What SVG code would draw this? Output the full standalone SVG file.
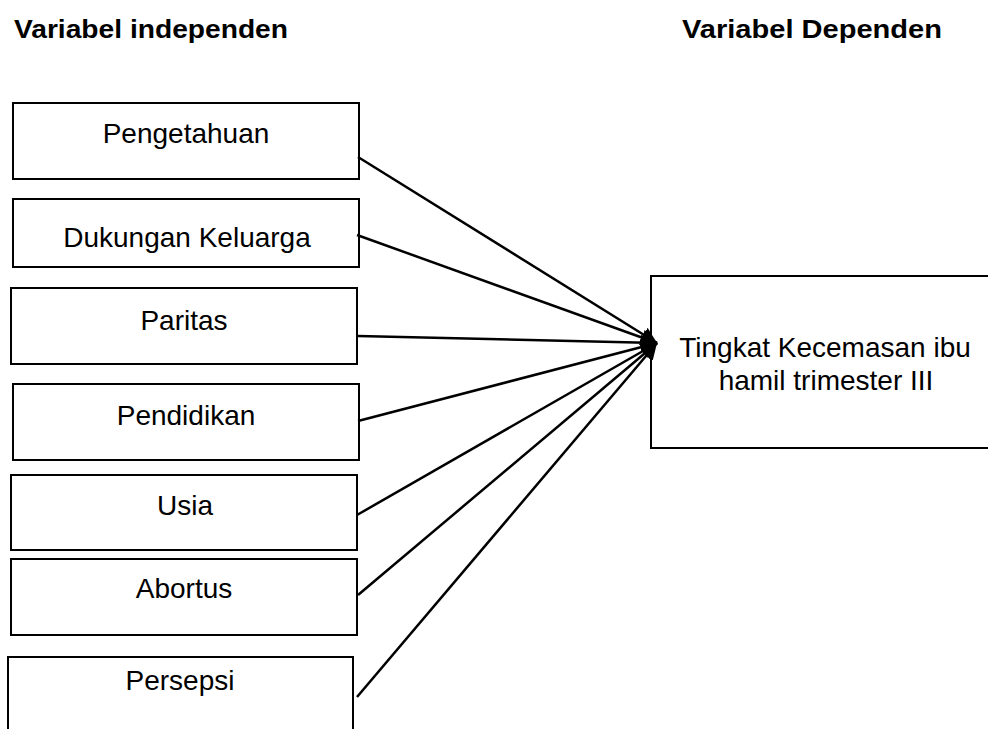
<svg xmlns="http://www.w3.org/2000/svg" width="988" height="729" viewBox="0 0 988 729">
<style>
.box{fill:#fff;stroke:#000;stroke-width:2}
.lbl{font-family:"Liberation Sans",Arial,sans-serif;font-size:28px;fill:#000;text-anchor:middle}
.hd{font-family:"Liberation Sans",Arial,sans-serif;font-size:26.5px;font-weight:bold;fill:#000}
.edge{stroke:#000;stroke-width:2.5;fill:none;marker-end:url(#ah)}
</style>
<defs>
<marker id="ah" markerUnits="userSpaceOnUse" markerWidth="18" markerHeight="16" refX="16" refY="8" orient="auto">
<path d="M0,0 L16,8 L0,16 Z" fill="#000"/>
</marker>
</defs>
<rect width="988" height="729" fill="#fff"/>
<text class="hd" x="14" y="38" textLength="274" lengthAdjust="spacingAndGlyphs">Variabel independen</text>
<text class="hd" x="682" y="38" textLength="260" lengthAdjust="spacingAndGlyphs">Variabel Dependen</text>
<g id="n1"><rect class="box" x="13" y="103" width="346" height="76"/><text class="lbl" x="186" y="143">Pengetahuan</text></g>
<g id="n2"><rect class="box" x="13" y="199" width="346" height="68"/><text class="lbl" x="187" y="247">Dukungan Keluarga</text></g>
<g id="n3"><rect class="box" x="11" y="288" width="346" height="76"/><text class="lbl" x="184" y="330">Paritas</text></g>
<g id="n4"><rect class="box" x="13" y="384" width="346" height="76"/><text class="lbl" x="186" y="425">Pendidikan</text></g>
<g id="n5"><rect class="box" x="11" y="475" width="346" height="75"/><text class="lbl" x="185" y="515">Usia</text></g>
<g id="n6"><rect class="box" x="11" y="559" width="346" height="76"/><text class="lbl" x="184" y="598">Abortus</text></g>
<g id="n7"><rect class="box" x="8" y="657" width="345" height="90"/><text class="lbl" x="180" y="690">Persepsi</text></g>
<g id="n8"><rect class="box" x="651" y="276" width="348" height="172"/><text class="lbl" x="825" y="357">Tingkat Kecemasan ibu</text><text class="lbl" x="826" y="390">hamil trimester III</text></g>
<g id="edges">
<line class="edge" x1="358" y1="157" x2="657" y2="343"/>
<line class="edge" x1="357" y1="235" x2="657" y2="343"/>
<line class="edge" x1="358" y1="336" x2="657" y2="343"/>
<line class="edge" x1="358" y1="421" x2="657" y2="343"/>
<line class="edge" x1="357" y1="515" x2="657" y2="343"/>
<line class="edge" x1="358" y1="595" x2="657" y2="343"/>
<line class="edge" x1="357" y1="697" x2="657" y2="343"/>
</g>
</svg>
